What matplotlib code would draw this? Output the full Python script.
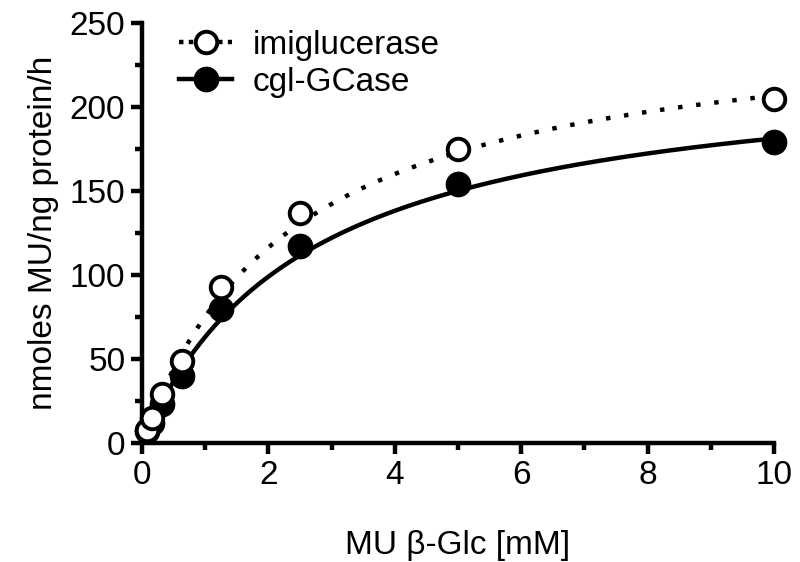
import numpy as np
import matplotlib
matplotlib.use('Agg')
import matplotlib.pyplot as plt
from matplotlib.ticker import MultipleLocator

plt.rcParams['font.family'] = ['Liberation Sans', 'DejaVu Sans']

# substrate concentrations (mM)
conc = [0.078, 0.156, 0.3125, 0.625, 1.25, 2.5, 5, 10]
# activity, nmoles MU/ng protein/h
imiglucerase = [8, 15, 29, 49, 93, 137, 175, 205]
cgl_gcase = [7, 12, 23, 40, 80, 117, 154, 179]


def mm_fit(x, v):
    # Hanes-Woolf: x/v = x/Vmax + Km/Vmax
    x = np.array(x, float)
    v = np.array(v, float)
    a, b = np.polyfit(x, x / v, 1)
    vmax = 1 / a
    km = b * vmax
    return vmax, km


fig = plt.figure(figsize=(8, 5.62), dpi=100)
ax = fig.add_axes([0.1775, 0.2117, 0.79, 0.7473])

xs = np.linspace(0, 10, 300)
vm, km = mm_fit(conc, imiglucerase)
ax.plot(xs, vm * xs / (km + xs), color='k', lw=3.2, linestyle=(0, (1, 3.1)))
vm2, km2 = mm_fit(conc, cgl_gcase)
ax.plot(xs, vm2 * xs / (km2 + xs), color='k', lw=3.2)

ax.plot(conc, cgl_gcase, 'o', color='k', ms=16, mec='k', mew=2.5, zorder=3)
ax.plot(conc, imiglucerase, 'o', mfc='white', mec='k', ms=15.5, mew=2.8, zorder=4)

# legend handles
h1, = ax.plot([], [], color='k', lw=3.2, linestyle=(0, (1, 1.2)), marker='o',
              mfc='white', mec='k', ms=15.5, mew=2.8)
h2, = ax.plot([], [], color='k', lw=3.2, marker='o', mfc='k', mec='k', ms=16, mew=2.5)
leg = ax.legend([h1, h2], ['imiglucerase', 'cgl-GCase'], loc='upper left',
                bbox_to_anchor=(0.011, 1.056), frameon=False, fontsize=24,
                handlelength=1.6, handletextpad=0.6, labelspacing=0.18)

ax.set_xlim(0, 10)
ax.set_ylim(0, 250)
ax.xaxis.set_major_locator(MultipleLocator(2))
ax.xaxis.set_minor_locator(MultipleLocator(1))
ax.yaxis.set_major_locator(MultipleLocator(50))
ax.yaxis.set_minor_locator(MultipleLocator(25))

for s in ['top', 'right']:
    ax.spines[s].set_visible(False)
for s in ['left', 'bottom']:
    ax.spines[s].set_linewidth(3.2)
ax.tick_params(which='major', length=8, width=3.2, labelsize=24, pad=4)
ax.tick_params(which='minor', length=5, width=3.2)

ax.set_xlabel('MU β-Glc [mM]', fontsize=24, labelpad=28)
ax.set_ylabel('nmoles MU/ng protein/h', fontsize=24, labelpad=8)

for line in ax.lines:
    line.set_clip_on(False)

fig.savefig('out.png', dpi=100)
